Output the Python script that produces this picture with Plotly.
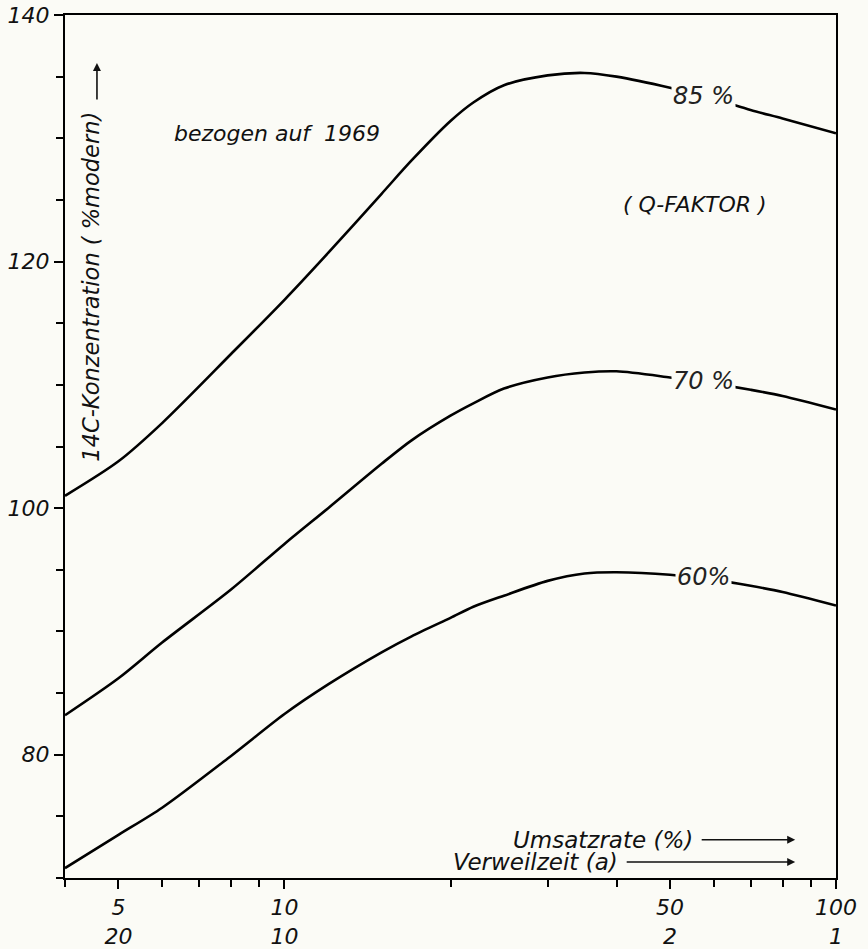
import numpy as np
import plotly.graph_objects as go

# Umsatzrate (%) on log x axis
x_vals = [4, 5, 6, 8, 10, 12, 15, 17, 20, 22, 25, 30, 35, 40, 50, 60, 70, 80, 100]
q85 = [101.0, 103.8, 106.9, 112.5, 116.9, 120.7, 125.5, 128.2, 131.4, 132.9, 134.3, 135.1, 135.3, 135.0, 134.1, 133.2, 132.3, 131.6, 130.4]
q70 = [83.2, 86.2, 89.1, 93.4, 97.1, 100.0, 103.6, 105.5, 107.5, 108.5, 109.7, 110.6, 111.0, 111.1, 110.6, 110.1, 109.6, 109.1, 108.0]
q60 = [70.8, 73.5, 75.7, 79.9, 83.3, 85.7, 88.3, 89.6, 91.1, 92.0, 92.9, 94.1, 94.7, 94.8, 94.6, 94.2, 93.7, 93.2, 92.1]

series = [("85 %", q85, 57.5, 133.4), ("70 %", q70, 57.5, 110.3), ("60%", q60, 57.5, 94.4)]

x_tickvals = [5, 10, 50, 100]
x_ticktext = ["5<br>20", "10<br>10", "50<br>2", "100<br>1"]
x_minor = [4, 6, 7, 8, 9, 20, 30, 40, 60, 70, 80, 90]
y_tickvals = [80, 100, 120, 140]

BG = "#fbfbf6"
FONT = "DejaVu Sans"

fig = go.Figure()
for name, ys, lx, ly in series:
    fig.add_trace(go.Scatter(x=x_vals, y=ys, mode="lines", line=dict(color="black", width=2.6, shape="spline", smoothing=0.8),
                             showlegend=False, hoverinfo="skip"))
    fig.add_annotation(x=np.log10(lx), y=ly, text="<i>%s</i>" % name, showarrow=False,
                       font=dict(family=FONT, size=24, color="#222"), bgcolor=BG, borderpad=1)

fig.add_annotation(x=np.log10(9.7), y=130.4, text="<i>bezogen auf  1969</i>", showarrow=False,
                   font=dict(family=FONT, size=22, color="#111"))
fig.add_annotation(x=np.log10(55.6), y=124.6, text="<i>( Q-FAKTOR )</i>", showarrow=False,
                   font=dict(family=FONT, size=22, color="#111"))

# y-axis title inside plot
fig.add_annotation(x=0.65, y=118.0, text="<i>14C-Konzentration ( %modern)</i>", textangle=-90, showarrow=False,
                   font=dict(family=FONT, size=22.5, color="#111"))
fig.add_annotation(x=0.66, y=136.1, ax=0, ay=38, text="", showarrow=True, arrowhead=2, arrowsize=1,
                   arrowwidth=1.6, arrowcolor="#111")

# x-axis descriptions
fig.add_annotation(x=1.745, y=73.1, text="<i>Umsatzrate (%)</i>", xanchor="right", showarrow=False,
                   font=dict(family=FONT, size=23, color="#111"))
fig.add_annotation(x=1.926, y=73.1, ax=-95, ay=0, text="", showarrow=True, arrowhead=2, arrowsize=1,
                   arrowwidth=1.6, arrowcolor="#111")
fig.add_annotation(x=1.609, y=71.3, text="<i>Verweilzeit (a)</i>", xanchor="right", showarrow=False,
                   font=dict(family=FONT, size=23, color="#111"))
fig.add_annotation(x=1.926, y=71.3, ax=-170, ay=0, text="", showarrow=True, arrowhead=2, arrowsize=1,
                   arrowwidth=1.6, arrowcolor="#111")

fig.update_xaxes(type="log", range=[np.log10(4), 2], tickvals=x_tickvals,
                 ticktext=["<i>%s</i>" % t.replace("<br>", "</i><br><i>") for t in x_ticktext],
                 ticks="outside", ticklen=9, tickwidth=2, tickcolor="black",
                 minor=dict(tickvals=x_minor, ticks="outside", ticklen=7, tickwidth=1.5, tickcolor="black", showgrid=False),
                 showline=True, linewidth=2, linecolor="black", mirror=True, showgrid=False, zeroline=False,
                 tickfont=dict(family=FONT, size=22, color="#111"), tickangle=0, automargin=False)
fig.update_yaxes(range=[70, 140], tickvals=y_tickvals, ticktext=["<i>%d</i>" % v for v in y_tickvals],
                 ticks="outside", ticklen=9, tickwidth=2, tickcolor="black",
                 minor=dict(dtick=5, tick0=0, ticks="outside", ticklen=7, tickwidth=1.5, tickcolor="black", showgrid=False),
                 showline=True, linewidth=2, linecolor="black", mirror=True, showgrid=False, zeroline=False,
                 tickfont=dict(family=FONT, size=22, color="#111"), automargin=False)

fig.update_layout(width=868, height=949, margin=dict(l=65, r=32, t=15, b=71),
                  paper_bgcolor=BG, plot_bgcolor=BG, showlegend=False)

fig.write_html("out.html")
